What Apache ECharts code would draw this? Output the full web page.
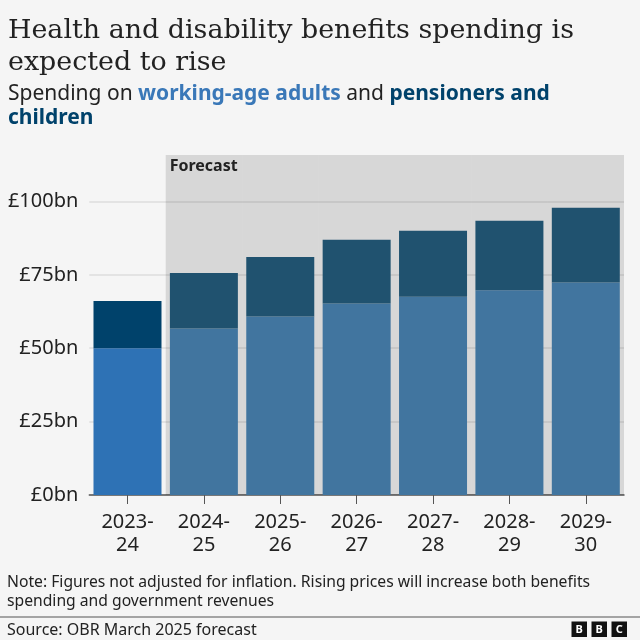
<!DOCTYPE html>
<html>
<head>
<meta charset="utf-8">
<style>
  html, body { margin: 0; padding: 0; background: #f5f5f5; }
  #chart { width: 640px; height: 640px; }
</style>
<script src="https://cdn.jsdelivr.net/npm/echarts@6/dist/echarts.min.js"></script>
</head>
<body>
<div id="chart"></div>
<script>
const years = ['2023-\n24', '2024-\n25', '2025-\n26', '2026-\n27', '2027-\n28', '2028-\n29', '2029-\n30'];
const workingAge = [50, 56.7, 60.8, 65.2, 67.5, 69.7, 72.4];
const pensioners = [16.1, 18.9, 20.3, 21.7, 22.5, 23.7, 25.4];
const forecastBand = [null, 115.8, 115.8, 115.8, 115.8, 115.8, 115.8];

const sansFont = '"Noto Sans", sans-serif';
const textColor = '#222222';

// first bar is actuals, the rest sit under the forecast shading
const actualBlue = '#2e72b5';
const forecastBlue = '#41759f';
const actualDark = '#00426b';
const forecastDark = '#20526f';

const chart = echarts.init(document.getElementById('chart'));

chart.setOption({
    backgroundColor: '#f5f5f5',
    animation: false,
    textStyle: { fontFamily: sansFont },
    title: [
        {
            text: 'Health and disability benefits spending is\nexpected to rise',
            left: 8, top: 15, padding: 0,
            textStyle: {
                fontFamily: '"DejaVu Serif", serif',
                fontSize: 26.9, fontWeight: 'normal', color: textColor, lineHeight: 32
            }
        },
        {
            text: 'Spending on {a|working-age adults} and {b|pensioners and}\n{b|children}',
            left: 8, top: 82, padding: 0,
            textStyle: {
                fontFamily: sansFont, fontSize: 21, fontWeight: 'normal', color: textColor, lineHeight: 24,
                rich: {
                    a: { fontFamily: sansFont, fontSize: 21, fontWeight: 'bold', color: '#3a78b8', lineHeight: 24 },
                    b: { fontFamily: sansFont, fontSize: 21, fontWeight: 'bold', color: '#00426b', lineHeight: 24 }
                }
            }
        },
        {
            text: 'Note: Figures not adjusted for inflation. Rising prices will increase both benefits\nspending and government revenues',
            left: 7, top: 573, padding: 0,
            textStyle: { fontFamily: sansFont, fontSize: 15.7, fontWeight: 'normal', color: textColor, lineHeight: 19 }
        },
        {
            text: 'Source: OBR March 2025 forecast',
            left: 7, top: 622, padding: 0,
            textStyle: { fontFamily: sansFont, fontSize: 16, fontWeight: 'normal', color: textColor }
        }
    ],
    grid: { left: 89.3, right: 16, top: 128, bottom: 145 },
    xAxis: [
        {
            type: 'category',
            data: years,
            axisLine: { lineStyle: { color: '#555555', width: 1.5 } },
            axisTick: { show: true, alignWithLabel: true, length: 9, lineStyle: { color: '#555555', width: 1 } },
            axisLabel: { color: textColor, fontSize: 20, lineHeight: 23, margin: 16, interval: 0 }
        },
        { type: 'category', data: years, show: false }
    ],
    yAxis: {
        type: 'value',
        min: 0,
        max: 125,
        interval: 25,
        axisLine: { show: false },
        axisTick: { show: false },
        splitLine: { showMaxLine: false, lineStyle: { color: '#dcdcdc', width: 1.5 } },
        axisLabel: {
            showMaxLabel: false,
            color: textColor,
            fontSize: 20,
            margin: 11,
            formatter: '£{value}bn'
        }
    },
    series: [
        {
            name: 'Forecast',
            type: 'bar',
            xAxisIndex: 1,
            barWidth: '100%',
            silent: true,
            z: 1,
            itemStyle: { color: 'rgba(0,0,0,0.12)' },
            data: forecastBand.map((v, i) => i === 1
                ? {
                    value: v,
                    label: {
                        show: true, formatter: 'Forecast', position: 'insideTopLeft',
                        distance: 4, fontSize: 16, fontWeight: 'bold', color: textColor,
                        padding: [-1, 0, 0, 0]
                    }
                }
                : v)
        },
        {
            name: 'Working-age adults',
            type: 'bar',
            stack: 'spend',
            barWidth: 68,
            z: 3,
            data: workingAge.map((v, i) => ({
                value: v,
                itemStyle: { color: i === 0 ? actualBlue : forecastBlue }
            }))
        },
        {
            name: 'Pensioners and children',
            type: 'bar',
            stack: 'spend',
            barWidth: 68,
            z: 3,
            data: pensioners.map((v, i) => ({
                value: v,
                itemStyle: { color: i === 0 ? actualDark : forecastDark }
            }))
        }
    ],
    graphic: [
        { type: 'rect', shape: { x: 0, y: 616.5, width: 640, height: 1 }, style: { fill: '#555555' } },
        ...['B', 'B', 'C'].flatMap((letter, i) => [
            { type: 'rect', shape: { x: 571.5 + i * 20, y: 621.5, width: 15.5, height: 15.5 }, style: { fill: '#111111' } },
            {
                type: 'text', x: 579.25 + i * 20, y: 629.5,
                style: {
                    text: letter, fill: '#ffffff', font: 'bold 11px ' + sansFont,
                    textAlign: 'center', textVerticalAlign: 'middle'
                }
            }
        ])
    ]
});
</script>
</body>
</html>
